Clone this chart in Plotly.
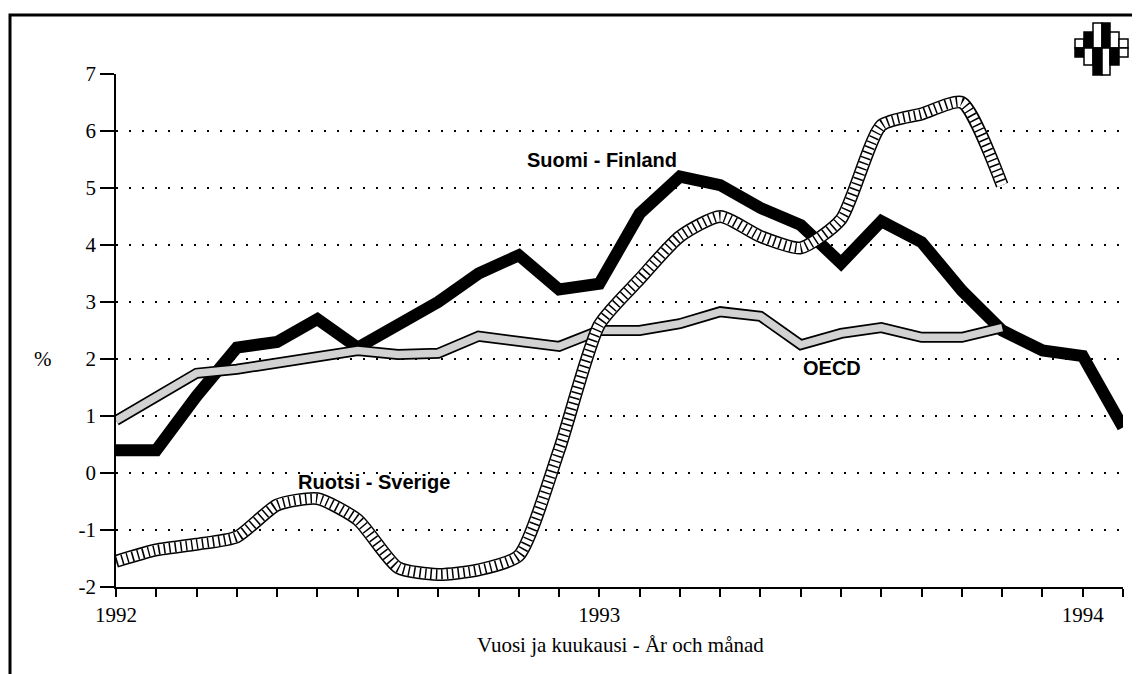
import plotly.graph_objects as go

months = ["1992-01","1992-02","1992-03","1992-04","1992-05","1992-06","1992-07","1992-08",
          "1992-09","1992-10","1992-11","1992-12","1993-01","1993-02","1993-03","1993-04",
          "1993-05","1993-06","1993-07","1993-08","1993-09","1993-10","1993-11","1993-12",
          "1994-01","1994-02"]
tick_text = ["1992","","","","","","","","","","","","1993","","","","","","","","","","","","1994",""]
y_ticks = [-2, -1, 0, 1, 2, 3, 4, 5, 6, 7]
y_tick_text = ["-2", "-1", "0", "1", "2", "3", "4", "5", "6", "7"]

finland = [0.4, 0.4, 1.35, 2.2, 2.3, 2.7, 2.2, 2.6, 3.0, 3.5, 3.82, 3.22, 3.32, 4.55, 5.2, 5.05,
           4.65, 4.35, 3.68, 4.42, 4.05, 3.2, 2.5, 2.15, 2.05, 0.8]
oecd = [0.92, 1.35, 1.75, 1.82, 1.92, 2.05, 2.15, 2.08, 2.1, 2.4, 2.32, 2.22, 2.5, 2.5, 2.62, 2.83,
        2.75, 2.25, 2.45, 2.55, 2.38, 2.38, 2.55]
sweden = [-1.55, -1.35, -1.25, -1.12, -0.56, -0.45, -0.82, -1.66, -1.78, -1.7, -1.45, 0.4, 2.6, 3.4,
          4.15, 4.5, 4.15, 3.95, 4.45, 6.1, 6.3, 6.5, 5.05]

fig = go.Figure()

# Finland: thick black line
fig.add_trace(go.Scatter(x=months[:len(finland)], y=finland, mode="lines",
                         line=dict(color="black", width=12), hoverinfo="skip"))
# OECD: outlined stippled band
fig.add_trace(go.Scatter(x=months[:len(oecd)], y=oecd, mode="lines",
                         line=dict(color="black", width=11), hoverinfo="skip"))
fig.add_trace(go.Scatter(x=months[:len(oecd)], y=oecd, mode="lines",
                         line=dict(color="#d2d2d2", width=7.5), hoverinfo="skip"))
# Sweden: outlined hatched band
for col, w, dash in [("black", 13, "solid"), ("white", 10, "solid"), ("black", 10, "1.5px,4px")]:
    fig.add_trace(go.Scatter(x=months[:len(sweden)], y=sweden, mode="lines",
                             line=dict(color=col, width=w, dash=dash, shape="spline", smoothing=0.6),
                             hoverinfo="skip"))

# screen geometry (the page body adds an 8px offset)
OFF = 8
SL, SR, ST, SB = 116, 1123, 74, 587   # plot area on screen
W, H = 1140, 674
L, T = SL - OFF, ST - OFF
R, B = W - (SR - OFF), H - (SB - OFF)
pw, ph = SR - SL, SB - ST
def px(x):
    return (x - SL) / pw
def py(y):
    return (SB - y) / ph

shapes = []
# outer frame
shapes.append(dict(type="rect", xref="paper", yref="paper", x0=px(10), x1=px(1160), y0=py(720), y1=py(15),
                   line=dict(color="black", width=3)))
# logo
cols = [1075, 1084, 1093, 1102, 1110, 1119, 1128]
tops = [39, 32, 23, 23, 32, 39]
bots = [57, 65, 75, 75, 65, 57]
mid = 48
upper = ["white", "black", "white", "black", "white", "white"]
lower = ["black", "white", "black", "white", "black", "white"]
for i in range(6):
    shapes.append(dict(type="rect", xref="paper", yref="paper", x0=px(cols[i]), x1=px(cols[i+1]),
                       y0=py(mid), y1=py(tops[i]), fillcolor=upper[i], line=dict(color="black", width=1.5)))
    shapes.append(dict(type="rect", xref="paper", yref="paper", x0=px(cols[i]), x1=px(cols[i+1]),
                       y0=py(bots[i]), y1=py(mid), fillcolor=lower[i], line=dict(color="black", width=1.5)))

lab_font = dict(family="Liberation Sans", size=20, color="black", weight="bold")
annotations = [
    dict(text="Suomi - Finland", x=12.07, y=5.49, xref="x", yref="y", showarrow=False,
         font=lab_font, xanchor="center", yanchor="middle"),
    dict(text="Ruotsi - Sverige", x=6.4, y=-0.15, xref="x", yref="y", showarrow=False,
         font=lab_font, xanchor="center", yanchor="middle"),
    dict(text="OECD", x=17.78, y=1.85, xref="x", yref="y", showarrow=False,
         font=lab_font, xanchor="center", yanchor="middle"),
    dict(text="%", x=px(43), y=2, xref="paper", yref="y", showarrow=False,
         font=dict(family="Liberation Serif", size=21, color="black"), xanchor="center", yanchor="middle"),
    dict(text="Vuosi ja kuukausi - År och månad", x=px(620), y=py(645), xref="paper", yref="paper",
         showarrow=False, font=dict(family="Liberation Serif", size=21, color="black"),
         xanchor="center", yanchor="middle"),
]

fig.update_layout(
    width=W, height=H, margin=dict(l=L, r=R, t=T, b=B),
    paper_bgcolor="white", plot_bgcolor="white", showlegend=False,
    shapes=shapes, annotations=annotations,
    xaxis=dict(type="category", categoryorder="array", categoryarray=months, range=[0, 25],
               tickmode="array", tickvals=months, ticktext=tick_text, ticks="outside", ticklen=8,
               tickwidth=1.5, tickcolor="black", showline=True, linecolor="black", linewidth=1.5,
               showgrid=False, zeroline=False,
               tickfont=dict(family="Liberation Serif", size=21, color="black")),
    yaxis=dict(range=[-2, 7], tickmode="array", tickvals=y_ticks, ticktext=y_tick_text, ticks="outside",
               ticklen=14, tickwidth=1.5, tickcolor="black", showline=True, linecolor="black",
               linewidth=1.5, showgrid=True, gridcolor="black", gridwidth=1.5, griddash="1.5px,11.5px",
               zeroline=False, tickfont=dict(family="Liberation Serif", size=21, color="black")),
)

fig.write_html("out.html")
